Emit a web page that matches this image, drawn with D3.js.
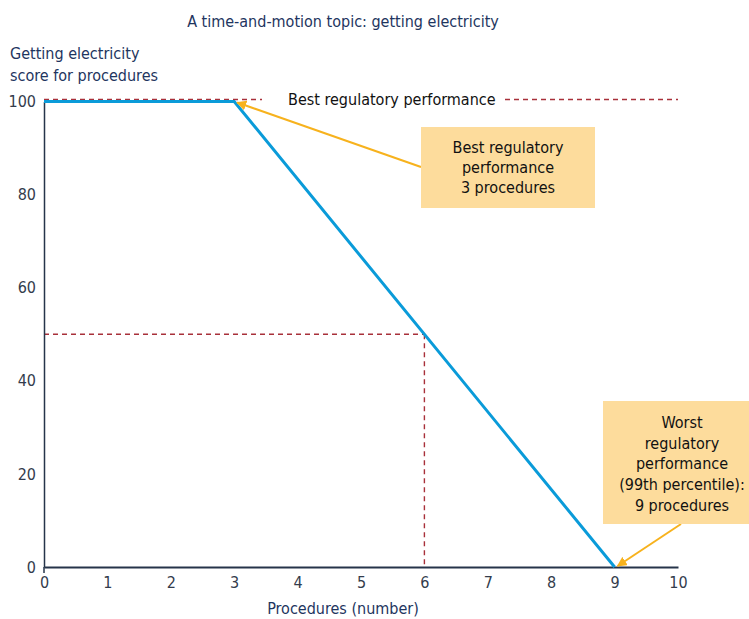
<!DOCTYPE html>
<html>
<head>
<meta charset="utf-8">
<script src="https://cdn.jsdelivr.net/npm/d3@7"></script>
<style>
  body { margin: 0; background: #fff; }
  svg text { font-family: "Liberation Sans Narrow", "DejaVu Sans Condensed", "Roboto Condensed", sans-serif; }
</style>
</head>
<body>
<svg id="chart" width="749" height="619"></svg>
<script>
// Score curve: 100 at 3 procedures or fewer, falling linearly to 0 at 9
const procedures = [0, 3, 9];
const scores = [100, 100, 0];
const xTicks = [0, 1, 2, 3, 4, 5, 6, 7, 8, 9, 10];
const yTicks = [0, 20, 40, 60, 80, 100];
// Example reading: 6 procedures gives a score of 50
const guideX = [6];
const guideY = [50];

const svg = d3.select("#chart");
const x = d3.scaleLinear().domain([0, 10]).range([44, 678]);
const y = d3.scaleLinear().domain([0, 100]).range([567, 101.5]);

const navy = "#1e3560";
const axisCol = "#26344a";
const red = "#a8303a";
const blue = "#0a9bd9";
const orange = "#f7b21d";
const boxFill = "#fddc9c";
const font = 16;
const dash = "5,4";

// Title
svg.append("text").attr("x", 343).attr("y", 27).attr("text-anchor", "middle")
  .attr("fill", navy).attr("font-size", font).text("A time-and-motion topic: getting electricity");

// Y axis title
svg.append("text").attr("x", 10).attr("y", 59).attr("fill", navy).attr("font-size", font)
  .text("Getting electricity");
svg.append("text").attr("x", 10).attr("y", 81).attr("fill", navy).attr("font-size", font)
  .text("score for procedures");

// Dashed guide at best performance (score 100)
const topY = y(100) - 2;
svg.append("line").attr("x1", x(0)).attr("x2", 262).attr("y1", topY).attr("y2", topY)
  .attr("stroke", red).attr("stroke-width", 1.4).attr("stroke-dasharray", dash);
svg.append("line").attr("x1", 505).attr("x2", x(10)).attr("y1", topY).attr("y2", topY)
  .attr("stroke", red).attr("stroke-width", 1.4).attr("stroke-dasharray", dash);
svg.append("text").attr("x", 288).attr("y", topY + 5).attr("fill", "#111")
  .attr("font-size", font).text("Best regulatory performance");

// Dashed guides at 6 procedures / score 50
svg.append("line").attr("x1", x(0)).attr("x2", x(guideX[0]))
  .attr("y1", y(guideY[0])).attr("y2", y(guideY[0]))
  .attr("stroke", red).attr("stroke-width", 1.4).attr("stroke-dasharray", dash);
svg.append("line").attr("x1", x(guideX[0])).attr("x2", x(guideX[0]))
  .attr("y1", y(guideY[0])).attr("y2", y(0))
  .attr("stroke", red).attr("stroke-width", 1.4).attr("stroke-dasharray", dash);

// Axes
const yAxis = svg.append("g").attr("transform", `translate(${x(0)},0)`)
  .call(d3.axisLeft(y).tickValues(yTicks).tickSize(0).tickPadding(8));
yAxis.select(".domain").attr("stroke", axisCol).attr("stroke-width", 1.5);
yAxis.selectAll("text").attr("font-size", font).attr("fill", "#333c4c")
  .attr("font-family", '"Liberation Sans Narrow", "DejaVu Sans Condensed", sans-serif');

const xAxis = svg.append("g").attr("transform", `translate(0,${y(0)})`)
  .call(d3.axisBottom(x).tickValues(xTicks).tickSize(0).tickPadding(10));
xAxis.select(".domain").attr("stroke", axisCol).attr("stroke-width", 2);
xAxis.selectAll("text").attr("font-size", font).attr("fill", "#333c4c")
  .attr("font-family", '"Liberation Sans Narrow", "DejaVu Sans Condensed", sans-serif');

svg.append("line").attr("x1", x(0)).attr("x2", x(0)).attr("y1", y(0)).attr("y2", y(0) + 6)
  .attr("stroke", axisCol).attr("stroke-width", 1.5);

svg.append("text").attr("x", 343).attr("y", 614).attr("text-anchor", "middle")
  .attr("fill", navy).attr("font-size", font).text("Procedures (number)");

// Score curve
const line = d3.line().x(d => x(d[0])).y(d => y(d[1]));
svg.append("path").datum(procedures.map((p, i) => [p, scores[i]]))
  .attr("d", line).attr("fill", "none").attr("stroke", blue)
  .attr("stroke-width", 3).attr("stroke-linejoin", "miter");

// Arrow marker
const defs = svg.append("defs");
defs.append("marker").attr("id", "arr").attr("viewBox", "0 0 10 10")
  .attr("refX", 9).attr("refY", 5).attr("markerWidth", 5).attr("markerHeight", 5)
  .attr("orient", "auto").attr("markerUnits", "strokeWidth")
  .append("path").attr("d", "M0,0 L10,5 L0,10 z").attr("fill", orange);

// Callout: best performance
svg.append("line").attr("x1", 421).attr("y1", 167).attr("x2", x(3) + 3).attr("y2", y(100) + 1)
  .attr("stroke", orange).attr("stroke-width", 2).attr("marker-end", "url(#arr)");
svg.append("rect").attr("x", 421).attr("y", 127).attr("width", 174).attr("height", 81)
  .attr("fill", boxFill);
["Best regulatory", "performance", "3 procedures"].forEach((t, i) => {
  svg.append("text").attr("x", 508).attr("y", 153 + i * 20).attr("text-anchor", "middle")
    .attr("fill", "#111").attr("font-size", font).text(t);
});

// Callout: worst performance
svg.append("line").attr("x1", 681).attr("y1", 524).attr("x2", x(9) + 3).attr("y2", y(0) - 1)
  .attr("stroke", orange).attr("stroke-width", 2).attr("marker-end", "url(#arr)");
svg.append("rect").attr("x", 603).attr("y", 401).attr("width", 146).attr("height", 123)
  .attr("fill", boxFill);
["Worst", "regulatory", "performance", "(99th percentile):", "9 procedures"].forEach((t, i) => {
  svg.append("text").attr("x", 682).attr("y", 428 + i * 20.7).attr("text-anchor", "middle")
    .attr("fill", "#111").attr("font-size", font).text(t);
});
</script>
</body>
</html>
